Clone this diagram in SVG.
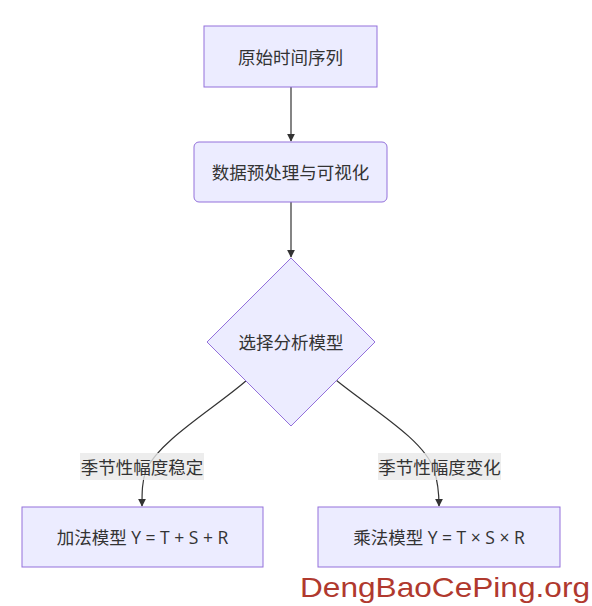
<svg xmlns="http://www.w3.org/2000/svg" width="592" height="606" viewBox="0 0 592 606">
<style>
.node{fill:#ECECFF;stroke:#9370DB;stroke-width:1}
.t{font-family:"Open Sans","Noto Sans CJK SC",sans-serif;font-size:17.5px;fill:#333;text-anchor:middle;dominant-baseline:central}
.e{fill:none;stroke:#333;stroke-width:1.2}
.lbg{fill:#e8e8e8;opacity:0.8}
</style>
<defs>
<marker id="arr" viewBox="0 0 10 10" refX="9" refY="5" markerWidth="8" markerHeight="8" markerUnits="userSpaceOnUse" orient="auto">
<path d="M0,0 L10,5 L0,10 z" fill="#333"/>
</marker>
</defs>
<rect width="592" height="606" fill="#fff"/>
<g id="edges">
<path class="e" d="M291,87 L291,141" marker-end="url(#arr)"/>
<path class="e" d="M291,202 L291,257" marker-end="url(#arr)"/>
<path class="e" d="M247,380 C215,408 160,440 146,470 C142,482 142,492 142,506" marker-end="url(#arr)"/>
<path class="e" d="M336,380 C370,408 425,440 434,470 C438,482 439,492 439,506" marker-end="url(#arr)"/>
</g>
<g id="n1"><rect class="node" x="204" y="26" width="173" height="61"/><text class="t" x="290.5" y="56.5">原始时间序列</text></g>
<g id="n2"><rect class="node" x="194" y="142" width="193" height="60" rx="5"/><text class="t" x="290.5" y="172">数据预处理与可视化</text></g>
<g id="n3"><polygon class="node" points="291,258 375,342 291,426 207,342"/><text class="t" x="291" y="342">选择分析模型</text></g>
<g id="n4"><rect class="node" x="22" y="507" width="241" height="60"/><text class="t" x="142.5" y="537">加法模型 Y = T + S + R</text></g>
<g id="n5"><rect class="node" x="318" y="507" width="242" height="60"/><text class="t" x="439" y="537">乘法模型 Y = T × S × R</text></g>
<g id="l1"><rect class="lbg" x="80" y="453" width="124" height="27"/><text class="t" x="142" y="466.5">季节性幅度稳定</text></g>
<g id="l2"><rect class="lbg" x="378" y="453" width="123" height="27"/><text class="t" x="439.5" y="466.5">季节性幅度变化</text></g>
<text x="300" y="597" font-family="Liberation Sans, Arial, sans-serif" font-size="28" fill="#b0392e" textLength="290" lengthAdjust="spacingAndGlyphs">DengBaoCePing.org</text>
</svg>
